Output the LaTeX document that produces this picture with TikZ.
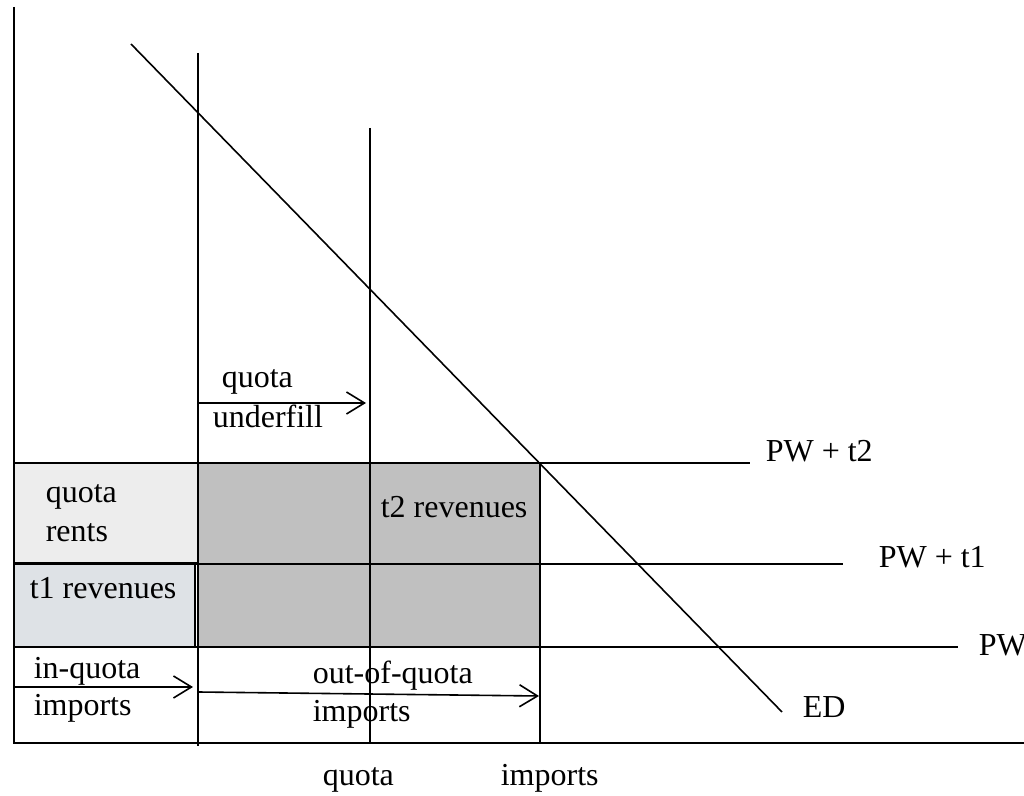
\documentclass[tikz,border=0pt]{standalone}
\usepackage{fontspec}
\setmainfont{Liberation Serif}
\usetikzlibrary{arrows.meta}
\definecolor{rentgray}{RGB}{237,237,237}
\definecolor{marblegray}{RGB}{222,226,230}
\definecolor{revgray}{RGB}{192,192,192}
\tikzset{
	lbl/.style={anchor=base west, inner sep=0pt, font=\fontsize{16}{19}\selectfont},
	arr/.style={line width=0.8pt, -{Straight Barb[length=9pt,width=11pt]}}
}

\begin{document}
\begin{tikzpicture}[x=0.5pt, y=-0.5pt, line width=0.8pt]
			%%%%% START %%%%%
			\useasboundingbox (0, 0) rectangle (1024, 796);
			
			\draw[line width=1.2pt, fill=rentgray] (14, 463) rectangle (198, 563);
			\draw[line width=1.2pt, fill=marblegray] (14, 563) rectangle (195, 647);
			\fill[revgray] (198, 463) rectangle (540, 647);
			
			\draw[line width=1pt] (14, 7) -- (14, 743) -- (1024, 743);
			
			\draw (14, 463) -- (750, 463);
			\draw (14, 564) -- (843, 564);
			\draw (14, 647) -- (958, 647);
			
			\draw (198, 53) -- (198, 746);
			\draw (370, 128) -- (370, 743);
			\draw[line width=1.2pt] (540, 463) -- (540, 743);
			
			\draw (131, 44) -- (782, 712);
			
			\coordinate (uf0) at (197, 403);
			\coordinate (uf1) at (366, 403);
			\draw[arr] (uf0) -- (uf1);
			\coordinate (iq0) at (14, 687);
			\coordinate (iq1) at (193, 687);
			\draw[arr] (iq0) -- (iq1);
			\coordinate (oq0) at (198, 692);
			\coordinate (oq1) at (539, 696);
			\draw[arr] (oq0) -- (oq1);
			
			\node[lbl] (ufA) at (221, 388) {quota};
			\node[lbl] (ufB) at (212, 428) {underfill};
			\node[lbl] (qrA) at (45, 503) {quota};
			\node[lbl] (qrB) at (45, 542) {rents};
			\node[lbl] (tone) at (29, 599) {t1 revenues};
			\node[lbl] (ttwo) at (380, 518) {t2 revenues};
			\node[lbl] (iqA) at (33, 679) {in-quota};
			\node[lbl] (iqB) at (33, 716) {imports};
			\node[lbl] (oqA) at (312, 684) {out-of-quota};
			\node[lbl] (oqB) at (312, 722) {imports};
			\node[lbl] (quota) at (322, 785) {quota};
			\node[lbl] (imports) at (500, 785) {imports};
			\node[lbl] (pwtwo) at (765, 462) {PW + t2};
			\node[lbl] (pwone) at (878, 568) {PW + t1};
			\node[lbl] (pw) at (978, 656) {PW};
			\node[lbl] (ed) at (802, 718) {ED};
			
			%%%%% END %%%%%
\end{tikzpicture}
\end{document}
